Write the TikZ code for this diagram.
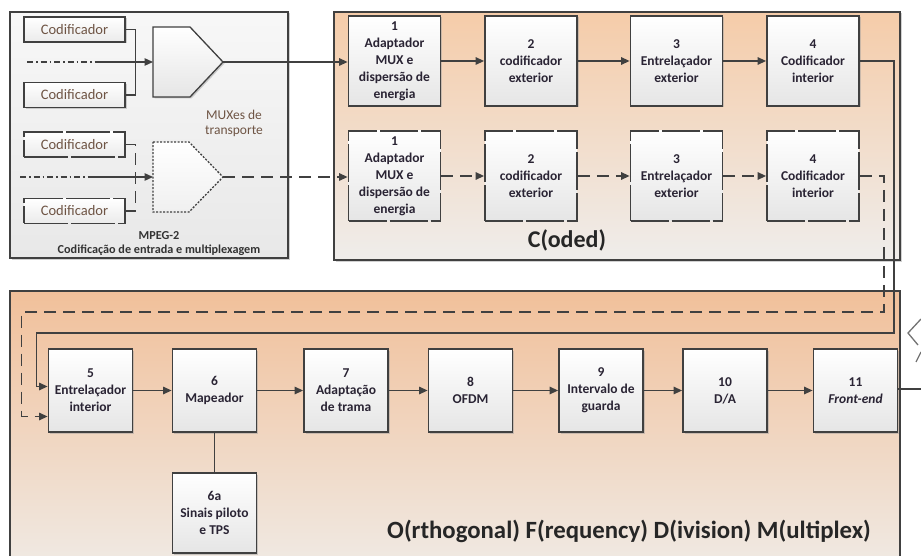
\documentclass[tikz,border=0pt]{standalone}
\usepackage{fontspec}
\setmainfont{Carlito}
\usetikzlibrary{arrows.meta,shadows}

\definecolor{lnc}{HTML}{404040}
\definecolor{txc}{HTML}{2A2434}
\definecolor{lbc}{HTML}{6E5444}
\definecolor{peachA}{HTML}{F5CCA9}
\definecolor{peachB}{HTML}{F1C09A}
\definecolor{paleA}{HTML}{EFEDEB}
\definecolor{paleB}{HTML}{F0EBE6}

\tikzset{
  shadowed/.style={drop shadow={shadow xshift=1.5pt,shadow yshift=-1.5pt,fill=black!40,opacity=0.45}},
  box/.style={draw=lnc,line width=1.8pt,top color=white,bottom color=black!10,
    minimum width=92pt,minimum height=90pt,inner sep=1pt,align=center,text=txc,
    font=\bfseries\fontsize{13.5}{17}\selectfont},
  sbox/.style={box,minimum width=84pt,minimum height=83pt},
  dbox/.style={box,dash pattern=on 38pt off 3pt},
  cod/.style={draw=lnc,line width=1.6pt,top color=white,bottom color=black!8,
    minimum width=101pt,minimum height=25pt,inner sep=0pt,text=lbc,
    font=\fontsize{14.5}{15}\selectfont},
  dcod/.style={cod,dash pattern=on 44pt off 3pt},
  link/.style={draw=lnc,line width=1.3pt},
  arr/.style={link,-{Triangle[length=8.5pt,width=7.5pt]}},
  dsh/.style={dash pattern=on 12pt off 7pt},
  dashdot/.style={link,dash pattern=on 6pt off 3pt on 1.5pt off 3pt},
  frame/.style={draw=lnc,line width=1.5pt},
  title/.style={text=black!85,font=\bfseries\fontsize{#1}{#1}\selectfont}
}

\begin{document}
\begin{tikzpicture}[x=1pt,y=-1pt]
\useasboundingbox (0,0) rectangle (921,556);
\clip (0,0) rectangle (921,556);

% group frames
\path[frame,top color=black!3,bottom color=black!9,shadowed] (10,12) rectangle (288,258);
\path[frame,top color=peachA,bottom color=paleA,shadowed] (334,12) rectangle (900,260);
\path[frame,top color=peachB,bottom color=paleB] (10,291) rectangle (900,575);

% MPEG-2 encoders and transport multiplexers
\node[cod,shadowed] (c1) at (74.5,29.5) {Codificador};
\node[cod,shadowed] (c2) at (74.5,95) {Codificador};
\node[dcod] (c3) at (74.5,144.5) {Codificador};
\node[dcod] (c4) at (74.5,211) {Codificador};

\path[link,top color=white,bottom color=black!10,shadowed]
  (153,27) -- (190,27) -- (223,62) -- (190,97) -- (153,97) -- cycle;
\path[link,top color=white,bottom color=black!6,dash pattern=on 2pt off 1.5pt]
  (153,142) -- (189,142) -- (223,177) -- (189,212) -- (153,212) -- cycle;
\coordinate (m1in) at (153,62);
\coordinate (m1out) at (223,62);
\coordinate (m2in) at (153,177);
\coordinate (m2out) at (223,177);
\coordinate (s1) at (27,62);
\coordinate (t1) at (97,62);
\coordinate (s2) at (20,177);
\coordinate (t2) at (92,177);

\draw[link] (c1.east) -- ++(10,0) |- (c2.east);
\draw[link,dsh] (c3.east) -- ++(10,0) |- (c4.east);
\draw[dashdot] (s1) -- (t1);
\draw[arr] (t1) -- (m1in);
\draw[dashdot] (s2) -- (t2);
\draw[arr] (t2) -- (m2in);

\node[text=lbc,align=center,font=\fontsize{13.5}{15}\selectfont] (muxl) at (234,123) {MUXes de\\transporte};
\node[text=black!80,align=center,font=\bfseries\fontsize{12.2}{14}\selectfont] (mpeg) at (159,244)
  {MPEG-2\\Codificação de entrada e multiplexagem};

% coded part, two branches
\node[box,shadowed] (b1) at (394.5,61) {1\\Adaptador\\MUX e\\dispersão de\\energia};
\node[box,shadowed] (b2) at (531,61) {2\\codificador\\exterior};
\node[box,shadowed] (b3) at (676.5,61) {3\\Entrelaçador\\exterior};
\node[box,shadowed] (b4) at (813,61) {4\\Codificador\\interior};
\node[dbox] (d1) at (394.5,176) {1\\Adaptador\\MUX e\\dispersão de\\energia};
\node[dbox] (d2) at (531,176) {2\\codificador\\exterior};
\node[dbox] (d3) at (676.5,176) {3\\Entrelaçador\\exterior};
\node[dbox] (d4) at (813,176) {4\\Codificador\\interior};

\draw[arr] (m1out) -- (m1out -| b1.west);
\draw[arr] (b1) -- (b2);
\draw[arr] (b2) -- (b3);
\draw[arr] (b3) -- (b4);
\draw[arr,dsh] (m2out) -- (m2out -| d1.west);
\draw[arr,dsh] (d1) -- (d2);
\draw[arr,dsh] (d2) -- (d3);
\draw[arr,dsh] (d3) -- (d4);

\node[title=24] (coded) at (567,240) {C(oded)};

% OFDM chain
\node[sbox,shadowed] (b5) at (90.5,390.5) {5\\Entrelaçador\\interior};
\node[sbox,shadowed] (b6) at (214.5,390.5) {6\\Mapeador};
\node[sbox,shadowed] (b7) at (346,390.5) {7\\Adaptação\\de trama};
\node[sbox,shadowed] (b8) at (470.5,390.5) {8\\OFDM};
\node[sbox,shadowed] (b9) at (601,390.5) {9\\Intervalo de\\guarda};
\node[sbox,shadowed] (b10) at (725,390.5) {10\\D/A};
\node[sbox,shadowed] (b11) at (855.5,390.5) {11\\\textit{Front-end}};
\node[sbox,shadowed,minimum height=80pt] (b6a) at (214.5,513) {6a\\Sinais piloto\\e TPS};

\draw[link,-{Triangle[length=8.5pt,width=7.5pt]}] (b4.east) -| (894,333) -| ([xshift=-11pt,yshift=4pt]b5.west) -- ([yshift=4pt]b5.west);
\draw[link,dsh,-{Triangle[length=8.5pt,width=7.5pt]}] (d4.east) -| (884,312) -| ([xshift=-26pt,yshift=-26pt]b5.west) -- ([yshift=-26pt]b5.west);

\draw[arr] (b5) -- (b6);
\draw[arr] (b6) -- (b7);
\draw[arr] (b7) -- (b8);
\draw[arr] (b8) -- (b9);
\draw[arr] (b9) -- (b10);
\draw[arr] (b10) -- (b11);
\draw[link] (b6) -- (b6a);
\coordinate (out) at (921,389);
\draw[link] (b11.east |- out) -- (out);

% antenna at the output
\draw[draw=black!55,line width=1.3pt] (921,319) -- (908,333) -- (918,345);
\draw[draw=black!55,line width=1.3pt] (916,362) -- (921,352);

\node[title=24.8] (ofdm) at (629,531) {O(rthogonal) F(requency) D(ivision) M(ultiplex)};
\end{tikzpicture}
\end{document}
